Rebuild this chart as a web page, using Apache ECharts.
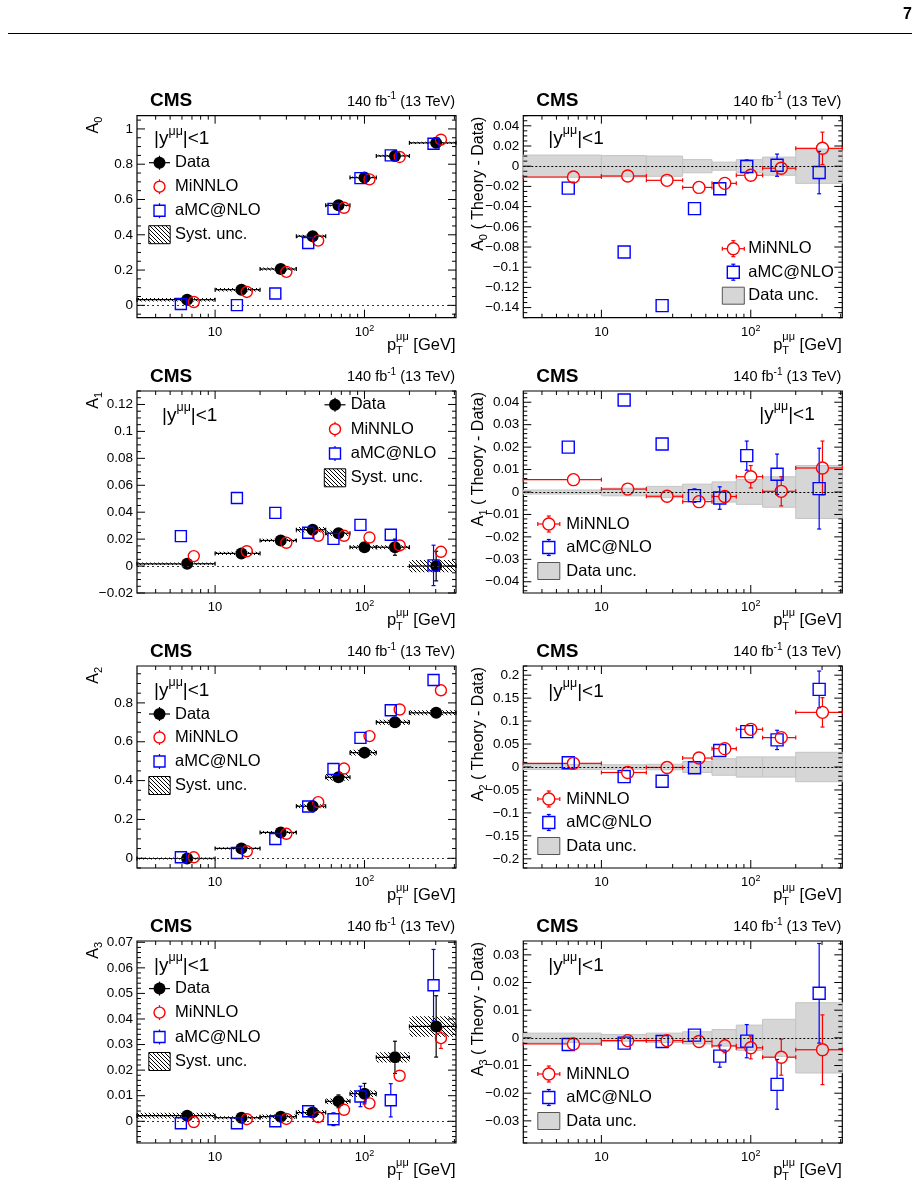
<!DOCTYPE html>
<html>
<head>
<meta charset="utf-8">
<title>CMS A0-A3 vs pT</title>
<script src="https://cdn.jsdelivr.net/npm/echarts@6.0.0/dist/echarts.min.js"></script>
<style>
  html, body { margin: 0; padding: 0; background: #fff; }
  #chart { width: 920px; height: 1199px; }
</style>
</head>
<body>
<div id="chart"></div>
<script>
// pT binning (GeV) and marker positions
const binLo = [3, 10, 20, 35, 55, 80, 120, 200];
const binHi = [10, 20, 35, 55, 80, 120, 200, 410];
const ptData = [6.5, 15, 27.5, 45, 67, 100, 160, 302];
const ptMiLeft = [7.2, 16.3, 30, 49, 73, 108, 172, 325];
const ptAmcLeft = [5.9, 14, 25.3, 42, 62, 94, 150, 290];
const ptAmcRight = [6.0, 14.2, 25.5, 42, 62, 94, 150, 287];

const xLabels = [10, 100];
const xMinor = [4, 5, 6, 7, 8, 9, 20, 30, 40, 50, 60, 70, 80, 90, 200, 300, 400];

// A0
const a0Data = [0.032, 0.089, 0.206, 0.392, 0.567, 0.724, 0.847, 0.921];
const a0Stat = [0.002, 0.002, 0.002, 0.003, 0.003, 0.004, 0.005, 0.008];
const a0Syst = [0.010, 0.010, 0.008, 0.008, 0.006, 0.006, 0.006, 0.006];
const a0Minnlo = [0.019, 0.076, 0.190, 0.367, 0.553, 0.714, 0.841, 0.939];
const a0Amc = [0.008, 0.001, 0.067, 0.353, 0.547, 0.721, 0.850, 0.916];
const a0DiffMinnlo = [-0.0107, -0.0097, -0.014, -0.021, -0.017, -0.009, -0.002, 0.0177];
const a0DiffMinnloErr = [0.001, 0.001, 0.001, 0.001, 0.001, 0.002, 0.003, 0.016];
const a0DiffAmc = [-0.0217, -0.085, -0.138, -0.042, -0.0223, -0.0003, 0.001, -0.0063];
const a0DiffAmcErr = [0.001, 0.001, 0.001, 0.001, 0.002, 0.0065, 0.011, 0.021];
const a0DataUnc = [0.011, 0.0105, 0.010, 0.0065, 0.004, 0.0065, 0.009, 0.017];
const a0Ticks = [0, 0.2, 0.4, 0.6, 0.8, 1];
const a0DiffTicks = [-0.14, -0.12, -0.1, -0.08, -0.06, -0.04, -0.02, 0, 0.02, 0.04];

// A1
const a1Data = [0.0017, 0.0094, 0.019, 0.027, 0.0244, 0.014, 0.014, 0.0];
const a1Stat = [0.001, 0.001, 0.001, 0.002, 0.002, 0.003, 0.006, 0.011];
const a1Syst = [0.001, 0.0012, 0.0012, 0.002, 0.002, 0.0015, 0.0015, 0.0045];
const a1Minnlo = [0.0074, 0.011, 0.0173, 0.0225, 0.0225, 0.0212, 0.0153, 0.0106];
const a1Amc = [0.0222, 0.0506, 0.0395, 0.0247, 0.0202, 0.0306, 0.0232, 0.0005];
const a1AmcErr = [0, 0, 0, 0, 0, 0.001, 0.004, 0.015];
const a1DiffMinnlo = [0.0055, 0.0013, -0.0019, -0.0043, -0.002, 0.0068, 0.0003, 0.0107];
const a1DiffMinnloErr = [0.0005, 0.0005, 0.0008, 0.0015, 0.002, 0.005, 0.0065, 0.012];
const a1DiffAmc = [0.020, 0.041, 0.0214, -0.0016, -0.0027, 0.0162, 0.0079, 0.0015];
const a1DiffAmcErr = [0.0005, 0.0005, 0.0008, 0.003, 0.005, 0.0065, 0.009, 0.018];
const a1DataUnc = [0.0009, 0.0017, 0.0025, 0.0035, 0.0045, 0.0055, 0.0068, 0.0118];
const a1Ticks = [-0.02, 0, 0.02, 0.04, 0.06, 0.08, 0.1, 0.12];
const a1DiffTicks = [-0.04, -0.03, -0.02, -0.01, 0, 0.01, 0.02, 0.03, 0.04];

// A2
const a2Data = [-0.001, 0.051, 0.133, 0.268, 0.417, 0.544, 0.700, 0.749];
const a2Stat = [0.002, 0.003, 0.004, 0.005, 0.006, 0.008, 0.010, 0.012];
const a2Syst = [0.005, 0.006, 0.008, 0.010, 0.017, 0.015, 0.013, 0.013];
const a2Minnlo = [0.005, 0.036, 0.126, 0.289, 0.462, 0.629, 0.766, 0.865];
const a2Amc = [0.005, 0.027, 0.099, 0.267, 0.460, 0.620, 0.762, 0.918];
const a2DiffMinnlo = [0.008, -0.012, -0.001, 0.0195, 0.040, 0.082, 0.064, 0.119];
const a2DiffMinnloErr = [0.002, 0.002, 0.003, 0.004, 0.005, 0.008, 0.012, 0.032];
const a2DiffAmc = [0.0094, -0.021, -0.031, -0.0015, 0.036, 0.077, 0.059, 0.169];
const a2DiffAmcErr = [0.002, 0.002, 0.003, 0.004, 0.005, 0.008, 0.021, 0.040];
const a2DataUnc = [0.0055, 0.005, 0.006, 0.012, 0.018, 0.022, 0.022, 0.032];
const a2Ticks = [0, 0.2, 0.4, 0.6, 0.8];
const a2DiffTicks = [-0.2, -0.15, -0.1, -0.05, 0, 0.05, 0.1, 0.15, 0.2];

// A3
const a3Data = [0.0022, 0.0014, 0.0018, 0.0034, 0.0078, 0.0108, 0.025, 0.0371];
const a3Stat = [0.0006, 0.0006, 0.0006, 0.0008, 0.0025, 0.004, 0.0063, 0.012];
const a3Syst = [0.0011, 0.0006, 0.0008, 0.001, 0.0011, 0.0013, 0.002, 0.004];
const a3Minnlo = [-0.0003, 0.0008, 0.0009, 0.0016, 0.0045, 0.007, 0.0178, 0.0325];
const a3MinnloErr = [0, 0, 0, 0, 0, 0.001, 0.001, 0.004];
const a3Amc = [-0.0008, -0.0008, 0.0, 0.0039, 0.0008, 0.0097, 0.0082, 0.0532];
const a3AmcErr = [0, 0, 0, 0, 0.0025, 0.004, 0.0065, 0.014];
const a3DiffMinnlo = [-0.0022, -0.001, -0.001, -0.0013, -0.0029, -0.0036, -0.007, -0.0043];
const a3DiffMinnloErr = [0.0003, 0.0003, 0.0004, 0.0008, 0.0025, 0.004, 0.0065, 0.0126];
const a3DiffAmc = [-0.0024, -0.0019, -0.0013, 0.001, -0.0066, -0.0012, -0.0168, 0.0161];
const a3DiffAmcErr = [0.0003, 0.0003, 0.0004, 0.0008, 0.004, 0.006, 0.009, 0.018];
const a3DataUnc = [0.0017, 0.0012, 0.0017, 0.0022, 0.003, 0.0046, 0.0067, 0.0127];
const a3Ticks = [0, 0.01, 0.02, 0.03, 0.04, 0.05, 0.06, 0.07];
const a3DiffTicks = [-0.03, -0.02, -0.01, 0, 0.01, 0.02, 0.03];

const FONT = '"Liberation Sans", Arial, Helvetica, sans-serif';
const RED = '#ff0000', BLUE = '#0000ff', GREY = '#d6d6d6';
const colLeft = [137, 523.3];
const rowTop = [115.7, 391, 666, 941];
const W = 319, H = 202;
const X_MIN = 3, X_MAX = 410;

const panels = [
  { col: 0, row: 0, idx: '0', yMin: -0.07, yMax: 1.075, labels: a0Ticks, minor: 0.05,
    data: a0Data, stat: a0Stat, syst: a0Syst, mi: a0Minnlo, miErr: null, amc: a0Amc, amcErr: null,
    leg: { mx: 22.5, tx: 38, rows: [47, 71, 95, 119], yx: 17, yy: 23.5 } },
  { col: 1, row: 0, idx: '0', yMin: -0.15, yMax: 0.05, labels: a0DiffTicks, minor: 0.005,
    mi: a0DiffMinnlo, miErr: a0DiffMinnloErr, amc: a0DiffAmc, amcErr: a0DiffAmcErr, unc: a0DataUnc,
    leg: { mx: 210, tx: 225, rows: [133, 156.5, 180], yx: 25, yy: 23 } },
  { col: 0, row: 1, idx: '1', yMin: -0.02, yMax: 0.13, labels: a1Ticks, minor: 0.005,
    data: a1Data, stat: a1Stat, syst: a1Syst, mi: a1Minnlo, miErr: null, amc: a1Amc, amcErr: a1AmcErr,
    leg: { mx: 198, tx: 213.7, rows: [13.8, 38.2, 62.5, 86.8], yx: 25, yy: 24.3 } },
  { col: 1, row: 1, idx: '1', yMin: -0.045, yMax: 0.045, labels: a1DiffTicks, minor: 0.002,
    mi: a1DiffMinnlo, miErr: a1DiffMinnloErr, amc: a1DiffAmc, amcErr: a1DiffAmcErr, unc: a1DataUnc,
    leg: { mx: 25.5, tx: 43, rows: [133, 156.5, 180], yx: 236, yy: 23.6 } },
  { col: 0, row: 2, idx: '2', yMin: -0.05, yMax: 0.99, labels: a2Ticks, minor: 0.05,
    data: a2Data, stat: a2Stat, syst: a2Syst, mi: a2Minnlo, miErr: null, amc: a2Amc, amcErr: null,
    leg: { mx: 22.5, tx: 38, rows: [48, 71.5, 95.5, 119.5], yx: 17, yy: 24.3 } },
  { col: 1, row: 2, idx: '2', yMin: -0.22, yMax: 0.22, labels: a2DiffTicks, minor: 0.01,
    mi: a2DiffMinnlo, miErr: a2DiffMinnloErr, amc: a2DiffAmc, amcErr: a2DiffAmcErr, unc: a2DataUnc,
    leg: { mx: 25.5, tx: 43, rows: [133, 156.5, 180], yx: 25, yy: 26 } },
  { col: 0, row: 3, idx: '3', yMin: -0.0085, yMax: 0.0705, labels: a3Ticks, minor: 0.002,
    data: a3Data, stat: a3Stat, syst: a3Syst, mi: a3Minnlo, miErr: a3MinnloErr, amc: a3Amc, amcErr: a3AmcErr,
    leg: { mx: 22.5, tx: 38, rows: [47.6, 71.6, 96, 120.5], yx: 17, yy: 24.3 } },
  { col: 1, row: 3, idx: '3', yMin: -0.038, yMax: 0.035, labels: a3DiffTicks, minor: 0.002,
    mi: a3DiffMinnlo, miErr: a3DiffMinnloErr, amc: a3DiffAmc, amcErr: a3DiffAmcErr, unc: a3DataUnc,
    leg: { mx: 25.5, tx: 43, rows: [133, 156.5, 180], yx: 25, yy: 24.3 } }
];

// hatch pattern for systematic bands
const hatchCanvas = document.createElement('canvas');
hatchCanvas.width = 4; hatchCanvas.height = 4;
(function () {
  const c = hatchCanvas.getContext('2d');
  c.strokeStyle = '#000'; c.lineWidth = 1;
  c.beginPath();
  c.moveTo(-1, -1); c.lineTo(5, 5);
  c.moveTo(-1, 3); c.lineTo(1, 5);
  c.moveTo(3, -1); c.lineTo(5, 1);
  c.stroke();
})();
const hatchFill = { image: hatchCanvas, repeat: 'repeat' };

function minorTicks(lo, hi, step, majors) {
  const out = [];
  const k0 = Math.ceil(lo / step - 1e-6), k1 = Math.floor(hi / step + 1e-6);
  for (let k = k0; k <= k1; k++) {
    const v = +(k * step).toFixed(6);
    if (!majors.some(m => Math.abs(m - v) < step * 1e-3)) out.push(v);
  }
  return out;
}

function fmtY(v) {
  return String(parseFloat(v.toFixed(4))).replace('-', '\u2212');
}

// ---------- render helpers ----------
function rectRender(style) {
  return function (params, api) {
    const a = api.coord([api.value(0), api.value(3)]);
    const b = api.coord([api.value(1), api.value(2)]);
    return { type: 'rect', shape: { x: a[0], y: a[1], width: b[0] - a[0], height: b[1] - a[1] }, style: style };
  };
}

function errRender(color, r, capY, capX) {
  return function (params, api) {
    const x = api.value(0), y = api.value(1);
    const c = api.coord([x, y]);
    const lo = api.coord([api.value(2), y])[0], hi = api.coord([api.value(3), y])[0];
    const yl = api.coord([x, api.value(4)])[1], yh = api.coord([x, api.value(5)])[1];
    const st = { stroke: color, lineWidth: 1.2 };
    const ch = [];
    const seg = (x1, y1, x2, y2) => ch.push({ type: 'line', shape: { x1, y1, x2, y2 }, style: st });
    if (c[0] - lo > r) { seg(lo, c[1], c[0] - r, c[1]); if (capX) seg(lo, c[1] - capX, lo, c[1] + capX); }
    if (hi - c[0] > r) { seg(c[0] + r, c[1], hi, c[1]); if (capX) seg(hi, c[1] - capX, hi, c[1] + capX); }
    if (c[1] - yh > r) { seg(c[0], c[1] - r, c[0], yh); if (capY) seg(c[0] - capY, yh, c[0] + capY, yh); }
    if (yl - c[1] > r) { seg(c[0], c[1] + r, c[0], yl); if (capY) seg(c[0] - capY, yl, c[0] + capY, yl); }
    return { type: 'group', children: ch };
  };
}

function tickRender(p) {
  return function (params, api) {
    const kind = api.value(2), len = api.value(3);
    const st = { stroke: '#000', lineWidth: 1 };
    if (kind === 0) {
      const v = api.value(0);
      const b = api.coord([v, p.yMin]), t = api.coord([v, p.yMax]);
      return { type: 'group', children: [
        { type: 'line', shape: { x1: b[0], y1: b[1], x2: b[0], y2: b[1] - len }, style: st },
        { type: 'line', shape: { x1: t[0], y1: t[1], x2: t[0], y2: t[1] + len }, style: st }] };
    }
    const v = api.value(1);
    const l = api.coord([X_MIN, v]), r = api.coord([X_MAX, v]);
    return { type: 'group', children: [
      { type: 'line', shape: { x1: l[0], y1: l[1], x2: l[0] + len, y2: l[1] }, style: st },
      { type: 'line', shape: { x1: r[0], y1: r[1], x2: r[0] - len, y2: r[1] }, style: st }] };
  };
}

function errSeries(i, xs, ys, xlo, xhi, yerr, color, capY, capX, r) {
  return {
    type: 'custom', xAxisIndex: i, yAxisIndex: i, silent: true, z: 3,
    renderItem: errRender(color, r, capY, capX),
    encode: { x: [0, 2, 3], y: [1, 4, 5] },
    data: xs.map((x, k) => [x, ys[k], xlo[k], xhi[k], ys[k] - yerr[k], ys[k] + yerr[k]])
  };
}

function markerSeries(i, xs, ys, symbol, color, filled, size) {
  return {
    type: 'scatter', xAxisIndex: i, yAxisIndex: i, symbol: symbol, symbolSize: size, silent: true, z: 4,
    itemStyle: filled ? { color: color, opacity: 1 }
      : { color: 'rgba(0,0,0,0)', borderColor: color, borderWidth: 1.4, opacity: 1 },
    data: xs.map((x, k) => [x, ys[k]])
  };
}

function zeroLine(color, dash) {
  return {
    silent: true, symbol: ['none', 'none'], label: { show: false },
    lineStyle: { color: color, width: 1, type: dash, opacity: 1 },
    emphasis: { disabled: true }, animation: false,
    data: [{ yAxis: 0 }]
  };
}

// ---------- text helpers ----------
const mctx = document.createElement('canvas').getContext('2d');
function fontStr(size, bold) { return (bold ? 'bold ' : '') + size + 'px ' + FONT; }
function tw(t, size, bold) { mctx.font = fontStr(size, bold); return mctx.measureText(t).width; }

// parts: [text, size, dy, {bold, stack}]
function run(x, y, parts, align) {
  let total = 0;
  parts.forEach(p => { const o = p[3] || {}; if (!o.stack) total += tw(p[0], p[1], o.bold); });
  let cx = align === 'right' ? x - total : x;
  const out = [];
  parts.forEach(p => {
    const o = p[3] || {};
    out.push({
      type: 'text', silent: true,
      style: { text: p[0], x: cx, y: y + (p[2] || 0), fill: '#000', font: fontStr(p[1], o.bold),
        align: 'left', verticalAlign: 'middle', textAlign: 'left', textVerticalAlign: 'middle' }
    });
    if (!o.stack) cx += tw(p[0], p[1], o.bold);
  });
  return out;
}

function gLine(x1, y1, x2, y2, color) {
  return { type: 'line', silent: true, shape: { x1, y1, x2, y2 }, style: { stroke: color, lineWidth: 1.2 } };
}

// ---------- build option ----------
const grids = [], xAxes = [], yAxes = [], series = [], graphics = [];

panels.forEach((p, i) => {
  const L = colLeft[p.col], T = rowTop[p.row];
  grids.push({ left: L, top: T, width: W, height: H, show: true, borderColor: '#000', borderWidth: 1.2,
    backgroundColor: 'rgba(0,0,0,0)', outerBoundsMode: 'none', containLabel: false });
  xAxes.push({
    type: 'log', logBase: 10, gridIndex: i, min: X_MIN, max: X_MAX,
    axisLine: { show: false }, axisTick: { show: false }, splitLine: { show: false },
    minorTick: { show: false }, minorSplitLine: { show: false },
    axisLabel: {
      margin: 6.5, color: '#000',
      formatter: v => Math.abs(v - 10) < 1e-6 ? '{b|10}' : (Math.abs(v - 100) < 1e-4 ? '{b|10}{s|2}' : ''),
      rich: {
        b: { fontSize: 13, fontFamily: FONT, color: '#000', lineHeight: 16 },
        s: { fontSize: 9, fontFamily: FONT, color: '#000', lineHeight: 8, verticalAlign: 'top' }
      }
    }
  });
  yAxes.push({
    type: 'value', gridIndex: i, min: p.yMin, max: p.yMax,
    axisLine: { show: false }, axisTick: { show: false }, splitLine: { show: false },
    axisLabel: { customValues: p.labels, formatter: fmtY, color: '#000', fontFamily: FONT, fontSize: 13.5, margin: 4 }
  });

  // ticks on all four sides
  const yMinor = minorTicks(p.yMin, p.yMax, p.minor, p.labels);
  series.push({
    type: 'custom', xAxisIndex: i, yAxisIndex: i, silent: true, z: 5,
    renderItem: tickRender(p), encode: { x: 0, y: 1 },
    data: [].concat(
      xLabels.map(v => [v, p.yMin, 0, 8]),
      xMinor.map(v => [v, p.yMin, 0, 4]),
      p.labels.map(v => [X_MIN, v, 1, 8]),
      yMinor.map(v => [X_MIN, v, 1, 4]))
  });

  if (p.col === 0) {
    series.push({
      type: 'custom', xAxisIndex: i, yAxisIndex: i, silent: true, z: 1,
      renderItem: rectRender({ fill: hatchFill }),
      encode: { x: [0, 1], y: [2, 3] },
      data: binLo.map((lo, k) => [lo, binHi[k], p.data[k] - p.syst[k], p.data[k] + p.syst[k]]),
      markLine: zeroLine('#333', [2, 3])
    });
    series.push(errSeries(i, ptData, p.data, binLo, binHi, p.stat, '#000', 2, 2, 6));
    series.push(markerSeries(i, ptData, p.data, 'circle', '#000', true, 12));
    if (p.miErr) series.push(errSeries(i, ptMiLeft, p.mi, ptMiLeft, ptMiLeft, p.miErr, RED, 2, 0, 5.5));
    series.push(markerSeries(i, ptMiLeft, p.mi, 'circle', RED, false, 11));
    if (p.amcErr) series.push(errSeries(i, ptAmcLeft, p.amc, ptAmcLeft, ptAmcLeft, p.amcErr, BLUE, 2, 0, 5.5));
    series.push(markerSeries(i, ptAmcLeft, p.amc, 'rect', BLUE, false, 11));
  } else {
    series.push({
      type: 'custom', xAxisIndex: i, yAxisIndex: i, silent: true, z: 1,
      renderItem: rectRender({ fill: GREY, stroke: '#c4c4c4', lineWidth: 1 }),
      encode: { x: [0, 1], y: [2, 3] },
      data: binLo.map((lo, k) => [lo, binHi[k], -p.unc[k], p.unc[k]])
    });
    const amcErrS = errSeries(i, ptAmcRight, p.amc, ptAmcRight, ptAmcRight, p.amcErr, BLUE, 2, 0, 6);
    amcErrS.markLine = zeroLine('#000', [2, 2]);
    amcErrS.z = 2;
    series.push(amcErrS);
    series.push(markerSeries(i, ptAmcRight, p.amc, 'rect', BLUE, false, 12));
    series.push(errSeries(i, ptData, p.mi, binLo, binHi, p.miErr, RED, 2, 2, 6));
    series.push(markerSeries(i, ptData, p.mi, 'circle', RED, false, 12));
  }

  // headers
  graphics.push(...run(L + 13, T - 14.5, [['CMS', 19, 0, { bold: true }]], 'left'));
  graphics.push(...run(L + W - 1, T - 14, [['140 fb', 14.5], ['-1', 10, -5], [' (13 TeV)', 14.5]], 'right'));
  // x title
  graphics.push(...run(L + W - 0.5, T + H + 27.5,
    [['p', 16.5], ['T', 11, 6, { stack: true }], ['\u03bc\u03bc', 11, -8], [' [GeV]', 16.5]], 'right'));
  // y title
  graphics.push({
    type: 'group', x: p.col === 0 ? 94 : 479, y: T + 1, rotation: Math.PI / 2,
    children: run(0, 0, [['A', 16], [p.idx, 11, 5]].concat(p.col === 1 ? [[' ( Theory - Data)', 16]] : []), 'right')
  });

  // legend
  const lg = p.leg;
  graphics.push(...run(L + lg.yx, T + lg.yy, [['|y', 19], ['\u03bc\u03bc', 12.5, -8], ['|<1', 19]], 'left'));
  const mx = L + lg.mx;
  if (p.col === 0) {
    const [r0, r1, r2, r3] = lg.rows.map(v => T + v);
    graphics.push(gLine(mx - 10.5, r0, mx + 10.5, r0, '#000'), gLine(mx, r0 - 7, mx, r0 + 7, '#000'),
      { type: 'circle', silent: true, shape: { cx: mx, cy: r0, r: 6 }, style: { fill: '#000' } });
    graphics.push(...run(L + lg.tx, r0, [['Data', 16.5]], 'left'));
    graphics.push(gLine(mx, r1 - 7.5, mx, r1 - 5.5, RED), gLine(mx, r1 + 5.5, mx, r1 + 7.5, RED),
      { type: 'circle', silent: true, shape: { cx: mx, cy: r1, r: 5.5 }, style: { fill: 'none', stroke: RED, lineWidth: 1.4 } });
    graphics.push(...run(L + lg.tx, r1, [['MiNNLO', 16.5]], 'left'));
    graphics.push(gLine(mx, r2 - 7.5, mx, r2 - 5.5, BLUE), gLine(mx, r2 + 5.5, mx, r2 + 7.5, BLUE),
      { type: 'rect', silent: true, shape: { x: mx - 5.5, y: r2 - 5.5, width: 11, height: 11 }, style: { fill: 'none', stroke: BLUE, lineWidth: 1.4 } });
    graphics.push(...run(L + lg.tx, r2, [['aMC@NLO', 16.5]], 'left'));
    graphics.push({ type: 'rect', silent: true, shape: { x: mx - 10.7, y: r3 - 9, width: 21.4, height: 18 },
      style: { fill: hatchFill, stroke: '#000', lineWidth: 1 } });
    graphics.push(...run(L + lg.tx, r3, [['Syst. unc.', 16.5]], 'left'));
  } else {
    const [r1, r2, r3] = lg.rows.map(v => T + v);
    graphics.push(gLine(mx - 11, r1, mx - 6, r1, RED), gLine(mx + 6, r1, mx + 11, r1, RED),
      gLine(mx - 11, r1 - 2, mx - 11, r1 + 2, RED), gLine(mx + 11, r1 - 2, mx + 11, r1 + 2, RED),
      gLine(mx, r1 - 8, mx, r1 - 6, RED), gLine(mx, r1 + 6, mx, r1 + 8, RED),
      gLine(mx - 2, r1 - 8, mx + 2, r1 - 8, RED), gLine(mx - 2, r1 + 8, mx + 2, r1 + 8, RED),
      { type: 'circle', silent: true, shape: { cx: mx, cy: r1, r: 6 }, style: { fill: 'none', stroke: RED, lineWidth: 1.4 } });
    graphics.push(...run(L + lg.tx, r1, [['MiNNLO', 16.5]], 'left'));
    graphics.push(gLine(mx, r2 - 8, mx, r2 - 6, BLUE), gLine(mx, r2 + 6, mx, r2 + 8, BLUE),
      gLine(mx - 2, r2 - 8, mx + 2, r2 - 8, BLUE), gLine(mx - 2, r2 + 8, mx + 2, r2 + 8, BLUE),
      { type: 'rect', silent: true, shape: { x: mx - 6, y: r2 - 6, width: 12, height: 12 }, style: { fill: 'none', stroke: BLUE, lineWidth: 1.4 } });
    graphics.push(...run(L + lg.tx, r2, [['aMC@NLO', 16.5]], 'left'));
    graphics.push({ type: 'rect', silent: true, shape: { x: mx - 11, y: r3 - 8.5, width: 22, height: 17 },
      style: { fill: GREY, stroke: '#555', lineWidth: 1 } });
    graphics.push(...run(L + lg.tx, r3, [['Data unc.', 16.5]], 'left'));
  }
});

// page furniture
graphics.push(...run(912, 15, [['7', 16, 0, { bold: true }]], 'right'));
graphics.push({ type: 'line', silent: true, shape: { x1: 8, y1: 33.5, x2: 912, y2: 33.5 }, style: { stroke: '#000', lineWidth: 1 } });

const chart = echarts.init(document.getElementById('chart'), null, { renderer: 'canvas' });
chart.setOption({
  animation: false,
  backgroundColor: '#fff',
  grid: grids,
  xAxis: xAxes,
  yAxis: yAxes,
  series: series,
  graphic: graphics
});
</script>
</body>
</html>
